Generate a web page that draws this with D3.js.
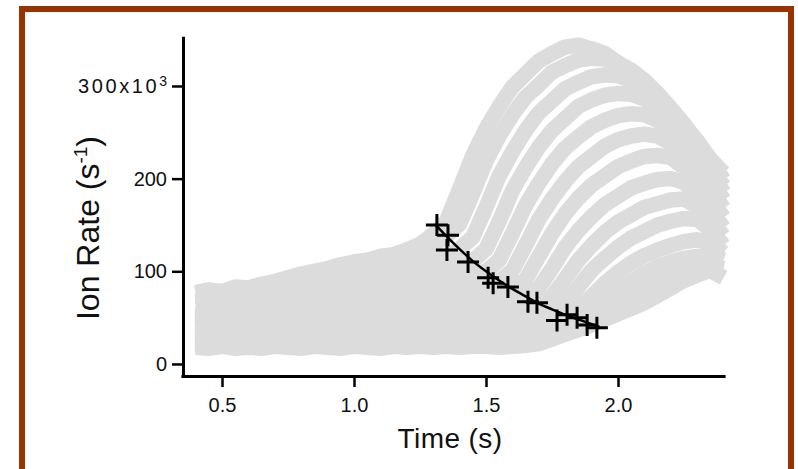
<!DOCTYPE html>
<html>
<head>
<meta charset="utf-8">
<script src="https://cdn.jsdelivr.net/npm/d3@7"></script>
<style>
  body { margin: 0; background: #fff; }
  svg { display: block; font-family: "Liberation Sans", Arial, Helvetica, sans-serif; }
</style>
</head>
<body>
<svg id="chart" width="798" height="469"></svg>
<script>
'use strict';

// sample times of the grey traces (s)
var times = [0.40, 0.45, 0.50, 0.55, 0.60, 0.65, 0.70, 0.75, 0.80, 0.85,
             0.90, 0.95, 1.00, 1.05, 1.10, 1.15, 1.20, 1.25, 1.30, 1.35,
             1.40, 1.45, 1.50, 1.55, 1.60, 1.65, 1.70, 1.75, 1.80, 1.85,
             1.90, 1.95, 2.00, 2.05, 2.10, 2.15, 2.20, 2.25, 2.30, 2.35,
             2.40];

// grey traces, ion rate (s^-1), one value per sample time
var trace01 = [77, 80, 78, 83, 82, 86, 89, 93, 97, 100, 103, 107, 110, 112, 116, 118, 123, 129, 140, 154,
               189, 225, 254, 278, 299, 313, 327, 335, 342, 344, 340, 335, 325, 313, 302, 288, 273, 256, 241, 221, 206];
var trace02 = [73, 71, 76, 75, 79, 78, 83, 85, 88, 92, 94, 98, 100, 104, 107, 111, 115, 120, 128, 138,
               151, 184, 219, 246, 269, 288, 301, 315, 322, 328, 330, 329, 325, 317, 306, 292, 276, 259, 240, 220, 199];
var trace03 = [68, 70, 67, 71, 72, 70, 75, 77, 76, 81, 83, 86, 88, 91, 94, 97, 101, 105, 110, 116,
               124, 137, 169, 203, 229, 252, 271, 284, 297, 304, 310, 312, 311, 306, 297, 285, 270, 253, 234, 213, 192];
var trace04 = [63, 61, 65, 64, 66, 68, 67, 71, 72, 74, 76, 78, 80, 83, 85, 88, 91, 94, 98, 102,
               106, 111, 124, 154, 187, 212, 234, 252, 265, 278, 285, 290, 292, 291, 286, 277, 265, 250, 232, 209, 185];
var trace05 = [59, 57, 60, 58, 61, 63, 62, 65, 66, 65, 69, 70, 72, 74, 76, 78, 81, 83, 86, 89,
               92, 96, 100, 112, 141, 171, 195, 216, 233, 245, 256, 263, 268, 270, 269, 263, 253, 239, 222, 200, 177];
var trace06 = [54, 52, 55, 53, 56, 55, 58, 57, 60, 61, 60, 63, 64, 66, 67, 69, 71, 73, 75, 78,
               80, 83, 86, 90, 101, 128, 156, 178, 197, 213, 224, 235, 242, 246, 248, 246, 238, 225, 208, 189, 168];
var trace07 = [50, 48, 51, 49, 52, 51, 53, 52, 55, 54, 56, 58, 57, 60, 61, 62, 64, 66, 67, 69,
               71, 73, 75, 78, 81, 91, 116, 141, 162, 179, 193, 203, 213, 219, 224, 225, 223, 212, 196, 178, 158];
var trace08 = [45, 43, 46, 44, 47, 45, 48, 47, 49, 48, 51, 50, 52, 53, 55, 54, 57, 58, 60, 61,
               63, 64, 66, 68, 70, 73, 82, 103, 126, 144, 159, 172, 181, 190, 195, 199, 200, 196, 182, 166, 147];
var trace09 = [40, 38, 41, 39, 42, 40, 43, 41, 44, 43, 45, 44, 46, 47, 46, 49, 50, 51, 53, 54,
               56, 57, 59, 60, 62, 63, 65, 73, 92, 112, 128, 142, 153, 161, 169, 173, 177, 178, 170, 155, 138];
var trace10 = [36, 34, 37, 35, 37, 36, 38, 37, 39, 38, 40, 39, 41, 40, 42, 43, 44, 45, 46, 47,
               49, 50, 51, 53, 54, 55, 57, 59, 66, 83, 101, 114, 126, 136, 143, 150, 154, 157, 156, 145, 128];
var trace11 = [31, 29, 32, 30, 32, 31, 33, 32, 34, 33, 35, 34, 36, 35, 37, 38, 39, 40, 41, 42,
               43, 44, 45, 46, 47, 49, 50, 51, 53, 59, 73, 87, 99, 109, 117, 123, 128, 132, 134, 131, 120];
var trace12 = [27, 25, 28, 26, 28, 27, 29, 28, 30, 29, 31, 30, 32, 31, 33, 32, 34, 35, 36, 37,
               37, 38, 39, 40, 41, 42, 43, 44, 46, 48, 54, 66, 79, 89, 98, 105, 110, 114, 116, 117, 112];
var trace13 = [22, 20, 23, 21, 23, 22, 24, 23, 25, 24, 25, 24, 26, 25, 27, 26, 28, 28, 29, 29,
               30, 30, 31, 31, 32, 32, 33, 34, 36, 39, 43, 50, 60, 70, 80, 88, 95, 100, 104, 106, 103];
var trace14 = [18, 17, 19, 17, 18, 17, 19, 18, 17, 19, 18, 17, 19, 18, 17, 19, 18, 19, 18, 19,
               18, 19, 19, 18, 19, 20, 22, 27, 32, 37, 42, 48, 54, 60, 66, 74, 82, 90, 96, 101, 93];

var traces = [trace14, trace13, trace12, trace11, trace10, trace09, trace08,
              trace07, trace06, trace05, trace04, trace03, trace02, trace01];

// onsets marked with +
var onsetTime = [1.314, 1.356, 1.352, 1.432, 1.508, 1.527, 1.583, 1.659, 1.693, 1.769, 1.807, 1.845, 1.883, 1.920];
var onsetRate = [150, 139, 123, 110, 93, 87, 83, 67, 66, 47, 53, 50, 42, 39];

// decay fit through the onsets
var fitTime = [1.31, 1.35, 1.40, 1.45, 1.50, 1.55, 1.60, 1.65, 1.70, 1.75, 1.80, 1.85, 1.93];
var fitRate = [150, 138, 124, 111, 100, 90, 81, 73, 65, 59, 53, 48, 40];

var xTicks = [0.5, 1.0, 1.5, 2.0];
var yTicks = [0, 100, 200, 300];

var svg = d3.select('#chart');

var x = d3.scaleLinear().domain([0.35, 2.4]).range([182.4, 723.6]);
var y = d3.scaleLinear().domain([-13, 352]).range([376, 37.8]);

// frame
svg.append('rect')
  .attr('x', 22).attr('y', 9)
  .attr('width', 769).attr('height', 480)
  .attr('fill', '#fff')
  .attr('stroke', '#993300')
  .attr('stroke-width', 6);

// grey traces
var line = d3.line()
  .x(function(d, i) { return x(times[i]); })
  .y(function(d) { return y(d); });

svg.append('g')
  .attr('class', 'traces')
  .selectAll('path')
  .data(traces)
  .enter().append('path')
    .attr('d', line)
    .attr('fill', 'none')
    .attr('stroke', '#dcdcdc')
    .attr('stroke-width', 15.5)
    .attr('stroke-linejoin', 'round');

// fit line
var fitLine = d3.line()
  .x(function(d, i) { return x(fitTime[i]); })
  .y(function(d) { return y(d); })
  .curve(d3.curveMonotoneX);

svg.append('path')
  .datum(fitRate)
  .attr('d', fitLine)
  .attr('fill', 'none')
  .attr('stroke', '#000')
  .attr('stroke-width', 2.5);

// + markers
var arm = 11;
svg.append('g')
  .attr('class', 'onsets')
  .selectAll('path')
  .data(onsetRate)
  .enter().append('path')
    .attr('d', function(d, i) {
      var cx = x(onsetTime[i]), cy = y(d);
      return 'M' + (cx - arm) + ',' + cy + 'H' + (cx + arm) +
             'M' + cx + ',' + (cy - arm) + 'V' + (cy + arm);
    })
    .attr('stroke', '#000')
    .attr('stroke-width', 3)
    .attr('fill', 'none');

// axes
var gx = svg.append('g')
  .attr('transform', 'translate(0,376)')
  .call(d3.axisBottom(x)
    .tickValues(xTicks)
    .tickFormat(d3.format('.1f'))
    .tickSize(11)
    .tickSizeOuter(0)
    .tickPadding(11));

var gy = svg.append('g')
  .attr('transform', 'translate(183,0)')
  .call(d3.axisLeft(y)
    .tickValues(yTicks)
    .tickFormat(function(d) { return d === 300 ? '300x10' : d; })
    .tickSize(11)
    .tickSizeOuter(0)
    .tickPadding(5));

[gx, gy].forEach(function(g) {
  g.select('.domain')
    .attr('stroke', '#000')
    .attr('stroke-width', 3)
    .attr('stroke-linecap', 'square');
  g.selectAll('.tick line')
    .attr('stroke', '#000')
    .attr('stroke-width', 2.5);
  g.selectAll('.tick text')
    .attr('fill', '#111')
    .attr('font-size', 20)
    .attr('font-family', '"Liberation Sans", Arial, sans-serif');
});

// top label: wider spacing and superscript exponent
gy.selectAll('.tick text')
  .filter(function(d) { return d === 300; })
  .attr('letter-spacing', 2.6)
  .append('tspan')
    .attr('dy', '-0.5em')
    .attr('font-size', 14)
    .attr('letter-spacing', 0)
    .text('3');

// axis titles
svg.append('text')
  .attr('x', 450)
  .attr('y', 448)
  .attr('text-anchor', 'middle')
  .attr('font-size', 28)
  .attr('letter-spacing', 0.4)
  .attr('fill', '#111')
  .text('Time (s)');

var yTitle = svg.append('text')
  .attr('transform', 'translate(99,228) rotate(-90)')
  .attr('text-anchor', 'middle')
  .attr('font-size', 32)
  .attr('fill', '#111');
yTitle.append('tspan').text('Ion Rate (s');
yTitle.append('tspan').attr('dy', -12).attr('font-size', 19).text('-1');
yTitle.append('tspan').attr('dy', 12).text(')');
</script>
</body>
</html>
